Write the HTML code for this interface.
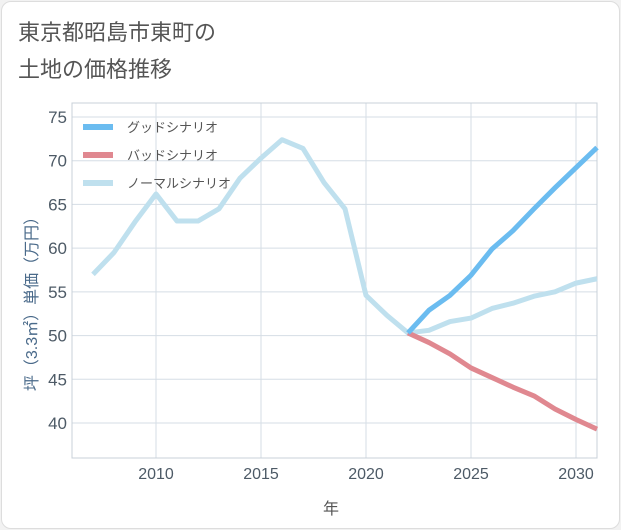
<!DOCTYPE html>
<html><head><meta charset="utf-8"><style>
body{margin:0;background:#f2f2f2;width:621px;height:530px;overflow:hidden;font-family:"Liberation Sans","Noto Sans CJK JP",sans-serif}
#card{position:absolute;left:1px;top:1px;width:617px;height:526px;background:#fff;border:1px solid #ddd;border-radius:10px}
</style></head><body>
<div id="card"></div>
<svg width="621" height="530" style="position:absolute;left:0;top:0">
<text x="18" y="40" font-size="22" fill="#555">東京都昭島市東町の</text>
<text x="18" y="77" font-size="22" fill="#555">土地の価格推移</text>
<g id="grid"></g>
<rect x="72" y="103" width="525" height="355" fill="none" stroke="#c8d0d8"/>
<g id="series"></g>
<g id="legend"></g>
<text x="331" y="514" font-size="16" fill="#555" text-anchor="middle">年</text>
<text transform="translate(37,300) rotate(-90)" font-size="16" fill="#4a6a8a" text-anchor="middle">坪（3.3㎡）単価（万円）</text>
</svg>
<script>
const yearsN=[2007,2008,2009,2010,2011,2012,2013,2014,2015,2016,2017,2018,2019,2020,2021,2022,2023,2024,2025,2026,2027,2028,2029,2030,2031];
const normal=[57,59.5,63,66.2,63.1,63.1,64.5,68,70.3,72.4,71.4,67.5,64.5,54.6,52.3,50.3,50.6,51.6,52,53.1,53.7,54.5,55,56,56.5];
const yearsF=[2022,2023,2024,2025,2026,2027,2028,2029,2030,2031];
const good=[50.3,52.9,54.6,56.9,59.9,62,64.5,66.9,69.2,71.5];
const bad=[50.3,49.2,47.9,46.3,45.2,44.1,43.1,41.6,40.4,39.3];
const xTicks=[2010,2015,2020,2025,2030];
const yTicks=[40,45,50,55,60,65,70,75];
const X=v=>156+(v-2010)*21, Y=v=>117+(75-v)*8.743;
const NS='http://www.w3.org/2000/svg';
function mk(t,a,p){const e=document.createElementNS(NS,t);for(const k in a)e.setAttribute(k,a[k]);p.appendChild(e);return e;}
const g=document.getElementById('grid');
xTicks.forEach(t=>{const l=mk('line',{x1:X(t),x2:X(t),y1:103,y2:458,stroke:'#d5dde5'},g);

const tx=mk('text',{x:X(t),y:479,'font-size':16,fill:'#4d5a66','text-anchor':'middle'},g);tx.textContent=t;
});
yTicks.forEach(t=>{const l=mk('line',{x1:72,x2:597,y1:Y(t),y2:Y(t),stroke:'#d5dde5'},g);

const tx=mk('text',{x:67,y:Y(t)+6,'font-size':17,fill:'#4d5a66','text-anchor':'end'},g);tx.textContent=t;
});
const s=document.getElementById('series');
function line(xs,vs,c,n){const p=mk('polyline',{points:xs.map((x,i)=>X(x)+','+Y(vs[i])).join(' '),fill:'none',stroke:c,'stroke-width':5,'stroke-linejoin':'round'},s);
}
line(yearsN,normal,'#bfe0ee','normal-scenario-line');
line(yearsF,bad,'#e08890','bad-scenario-line');
line(yearsF,good,'#6bbcf0','good-scenario-line');
const lg=document.getElementById('legend');
[['グッドシナリオ','#6bbcf0'],['バッドシナリオ','#e08890'],['ノーマルシナリオ','#bfe0ee']].forEach((d,i)=>{
const y=127+i*28;const r=mk('rect',{x:83,y:y-3,width:30,height:6,fill:d[1]},lg);

const t=mk('text',{x:127,y:y+5,'font-size':13,fill:'#555'},lg);t.textContent=d[0];
});
</script>
</body></html>
